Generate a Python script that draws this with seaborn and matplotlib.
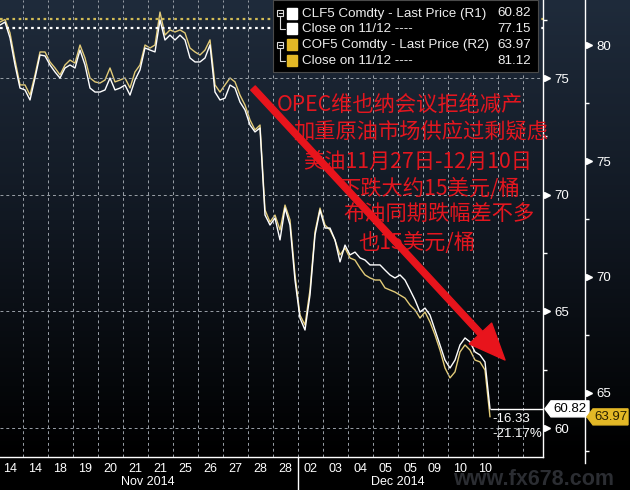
import numpy as np
import pandas as pd
import seaborn as sns
import matplotlib.pyplot as plt
from matplotlib.colors import LinearSegmentedColormap
from matplotlib.patches import Rectangle, Polygon, FancyArrowPatch
from matplotlib.lines import Line2D
from matplotlib.ticker import MultipleLocator
from matplotlib.transforms import blended_transform_factory

# CLF5 (WTI, right axis R1) and COF5 (Brent, outer axis R2) last price, left to right
wti = [77.27, 77.40, 76.72, 75.56, 74.57, 74.49, 74.06, 75.00, 75.99, 75.95,
       75.56, 75.26, 75.00, 75.43, 75.56, 75.43, 76.20, 75.56, 74.57, 74.40,
       74.40, 74.49, 75.00, 74.49, 74.57, 74.70, 74.27, 74.92, 75.35, 76.29,
       76.20, 76.12, 77.49, 76.63, 76.84, 76.63, 76.84, 76.63, 75.86, 75.69,
       75.69, 75.86, 76.42, 74.40, 74.06, 74.14, 74.70, 74.57, 73.97, 73.63,
       72.99, 72.69, 72.86, 69.13, 68.70, 69.00, 68.06, 69.43, 68.70, 66.34,
       64.71, 64.20, 65.70, 68.27, 69.34, 68.57, 68.57, 68.06, 67.12, 67.84,
       67.42, 67.54, 67.29, 67.20, 66.99, 66.99, 66.99, 66.77, 66.56, 66.43,
       66.56, 66.34, 65.92, 65.49, 64.97, 65.14, 64.84, 64.20, 63.56, 62.91,
       62.57, 62.91, 63.56, 63.86, 63.69, 63.26, 63.13, 62.83, 60.82]
brent = [80.99, 81.10, 80.52, 79.35, 78.28, 78.28, 77.84, 78.71, 79.70, 79.70,
         79.27, 79.01, 78.71, 79.14, 79.35, 79.22, 80.00, 79.44, 78.58, 78.41,
         78.36, 78.49, 79.01, 78.41, 78.49, 78.58, 78.15, 78.84, 79.14, 80.00,
         79.87, 80.00, 81.42, 80.43, 80.65, 80.56, 80.65, 80.52, 79.87, 79.70,
         79.57, 79.78, 80.22, 78.28, 77.97, 78.28, 78.58, 78.41, 77.84, 77.41,
         76.77, 76.34, 76.55, 72.89, 72.37, 72.67, 72.03, 73.10, 72.46, 70.09,
         68.36, 67.93, 69.44, 71.94, 72.97, 72.24, 72.03, 71.59, 70.95, 71.25,
         70.82, 70.73, 70.39, 70.09, 69.96, 69.87, 69.87, 69.53, 69.44, 69.35,
         69.22, 69.09, 68.79, 68.58, 68.23, 68.49, 68.06, 67.50, 66.85, 66.08,
         65.65, 65.91, 66.77, 67.07, 66.85, 66.42, 66.34, 65.99, 63.97]
wti_close = 77.15
brent_close = 81.12

day_labels = ['14', '14', '18', '19', '20', '21', '21', '25', '26', '27', '28', '28',
              '02', '03', '04', '05', '05', '09', '10', '10']
month_labels = ['Nov 2014', 'Dec 2014']
n_nov = 12

note_lines = ['OPEC维也纳会议拒绝减产',
              '加重原油市场供应过剩疑虑',
              '美油11月27日-12月10日',
              '下跌大约15美元/桶',
              '布油同期跌幅差不多',
              '也15美元/桶']

sns.set_style('dark')
plt.rcParams['font.family'] = ['Liberation Sans', 'Noto Sans CJK SC', 'DejaVu Sans']

W, H = 630, 490
fig = plt.figure(figsize=(6.3, 4.9), dpi=100)


def fx(x):
    return x / W


def fy(y):
    return 1 - y / H


# dark gradient background
bg = fig.add_axes([0, 0, 1, 1], zorder=-10)
cmap = LinearSegmentedColormap.from_list(
    'bb', [(0, '#1f2b3b'), (0.45, '#111822'), (0.93, '#000000'), (1, '#000000')])
bg.imshow(np.linspace(0, 1, 256)[:, None], aspect='auto', cmap=cmap, extent=[0, 1, 0, 1])
bg.axis('off')

ax = fig.add_axes([0, fy(457), fx(543), 457 / H])
ax2 = ax.twinx()
ax.set_zorder(2)
ax2.set_zorder(1)
ax.patch.set_visible(False)
ax2.patch.set_visible(False)

df = pd.DataFrame({'bar': np.arange(len(wti)), 'wti': wti, 'brent': brent})
sns.lineplot(data=df, x='bar', y='brent', ax=ax2, color='#e2cb78', lw=1)
sns.lineplot(data=df, x='bar', y='wti', ax=ax, color='white', lw=1)

ax.set_xlim(0, 108.6)
ax.set_ylim(58.757, 78.345)
ax2.set_ylim(62.241, 81.94)
for a in (ax, ax2):
    a.set_xlabel('')
    a.set_ylabel('')
    a.grid(False)
    for s in a.spines.values():
        s.set_visible(False)

ax.spines['right'].set_visible(True)
ax.spines['bottom'].set_visible(True)
ax2.spines['right'].set_visible(True)
ax2.spines['right'].set_position(('axes', 585 / 543))
ax2.spines['right'].set_bounds(62.0, 81.94)
for s in (ax.spines['right'], ax.spines['bottom'], ax2.spines['right']):
    s.set_color('white')
    s.set_linewidth(1)

grid_kw = dict(color='#9aa0a8', ls=(0, (3, 3)), lw=0.7, zorder=0)
for g in np.arange(4.5, 108, 5):
    ax.axvline(g, **grid_kw)

# x axis: trading days
tick_pos = np.arange(2, 2 + 5 * len(day_labels), 5)
ax.set_xticks(tick_pos)
ax.set_xticklabels(day_labels)
ax.tick_params(axis='x', length=0, pad=4, labelsize=9, labelcolor='white')
xt = blended_transform_factory(ax.transData, ax.transAxes)
for lab, grp in zip(month_labels, (tick_pos[:n_nov], tick_pos[n_nov:])):
    ax.text(grp.mean(), -0.055, lab, transform=xt, ha='center', va='center',
            fontsize=9, color='white')
sep = (tick_pos[n_nov - 1] + tick_pos[n_nov]) / 2
ax.add_line(Line2D([sep, sep], [0, -0.075], transform=xt, color='white', lw=1, clip_on=False))

# right axes
for a, ticks, xs in ((ax, [60, 65, 70, 75], 1.0), (ax2, [65, 70, 75, 80], 585 / 543)):
    a.yaxis.tick_right()
    a.set_yticks(ticks)
    a.yaxis.set_minor_locator(MultipleLocator(2.5))
    a.tick_params(axis='y', which='major', length=0, pad=8, labelsize=9.5, labelcolor='white',
                  right=True, left=False, labelright=True, labelleft=False)
    a.tick_params(axis='y', which='minor', length=3, width=1, color='white', direction='out',
                  right=True, left=False)
    for v in ticks:
        a.plot(xs + 3.5 / 543, v, marker='>', ms=4, color='white',
               transform=a.get_yaxis_transform(), clip_on=False)

for v in [60, 65, 70, 75]:
    ax.axhline(v, **grid_kw)

# close on 11/12
ax.axhline(wti_close, color='white', ls=(0, (1.2, 1.6)), lw=1.6, zorder=1)
ax2.axhline(brent_close, color='#d2bb55', ls=(0, (1.2, 1.6)), lw=1.6, zorder=1)

# last price line and change
last_x = df['bar'].iloc[-1]
ax.hlines(wti[-1], last_x, ax.get_xlim()[1], color='white', lw=1)
chg = wti[-1] - wti_close
pct = chg / wti_close * 100
ax.annotate(f'{chg:.2f}', (last_x, wti[-1]), xytext=(2, -3), textcoords='offset points',
            ha='left', va='top', fontsize=9.5, color='white')
ax.annotate(f'{pct:.2f}%', (last_x, wti[-1]), xytext=(2, -13.5), textcoords='offset points',
            ha='left', va='top', fontsize=9.5, color='white')


# price tags
def tag(a, value, x_left, width, fc, tc):
    y = fig.transFigure.inverted().transform(a.transData.transform((0, value)))[1] * H
    h = 16
    pts = [(x_left, y), (x_left + 6, y + h / 2), (x_left + width, y + h / 2),
           (x_left + width, y - h / 2), (x_left + 6, y - h / 2)]
    fig.patches.append(Polygon([(fx(px), py / H) for px, py in pts], closed=True,
                               transform=fig.transFigure, fc=fc, ec=fc, zorder=5))
    fig.text(fx(x_left + 3 + width / 2), y / H, f'{value:.2f}', ha='center', va='center',
             fontsize=9.5, color=tc, zorder=6)


tag(ax, wti[-1], 545, 44, 'white', 'black')
tag(ax2, brent[-1], 587, 41, '#e3b826', '#2a2000')

# legend box
fig.patches.append(Rectangle((fx(273), fy(72)), fx(265), 72 / H, transform=fig.transFigure,
                             fc='black', ec='#4a4a4a', lw=0.8, zorder=5))
rows = [
    ('white', 'CLF5 Comdty - Last Price (R1)', wti[-1]),
    ('white', 'Close on 11/12 ----', wti_close),
    ('#e3b826', 'COF5 Comdty - Last Price (R2)', brent[-1]),
    ('#e3b826', 'Close on 11/12 ----', brent_close),
]
row_y = [13.5, 29, 45, 61]
for (col, lab, val), y in zip(rows, row_y):
    fig.patches.append(Rectangle((fx(287), fy(y + 5.5)), fx(10), 11 / H,
                                 transform=fig.transFigure, fc=col, ec=col, zorder=6))
    fig.text(fx(302), fy(y), lab, ha='left', va='center', fontsize=9.6, color='#eeeeee', zorder=6)
    fig.text(fx(531), fy(y), f'{val:.2f}', ha='right', va='center', fontsize=9.6,
             color='#eeeeee', zorder=6)
for y0, y1 in ((row_y[0], row_y[1]), (row_y[2], row_y[3])):
    fig.patches.append(Rectangle((fx(277), fy(y0 + 3)), fx(6), 6 / H, transform=fig.transFigure,
                                 fc='black', ec='#dddddd', lw=0.8, zorder=6))
    fig.lines.append(Line2D([fx(278.5), fx(281.5)], [fy(y0), fy(y0)], transform=fig.transFigure,
                            color='#dddddd', lw=0.8, zorder=7))
    fig.lines.append(Line2D([fx(280), fx(280), fx(285)], [fy(y0 + 3), fy(y1), fy(y1)],
                            transform=fig.transFigure, color='#dddddd', lw=0.8, zorder=7))

# red annotation
note_x = [277, 293, 303, 340, 343, 358]
note_y = [105, 133, 162, 189, 215, 243]
for s, x, y in zip(note_lines, note_x, note_y):
    fig.text(fx(x), fy(y), s, ha='left', va='center', fontsize=15.3, color='#e3161f',
             family=['Noto Sans CJK SC', 'DejaVu Sans'], zorder=8)

arrow = FancyArrowPatch((fx(253), fy(88)), (fx(505), fy(360)), transform=fig.transFigure,
                        arrowstyle='simple,head_length=1.3,head_width=1.1,tail_width=0.22',
                        mutation_scale=20, color='#e8141c', shrinkA=0, shrinkB=0, zorder=9)
fig.patches.append(arrow)

# site watermark
fig.text(fx(534), fy(485), 'www.fx678.com', ha='center', va='baseline', fontsize=15.5,
         fontweight='bold', color='#2b2d32', zorder=1)

fig.savefig('out.png', dpi=100, facecolor='black')
